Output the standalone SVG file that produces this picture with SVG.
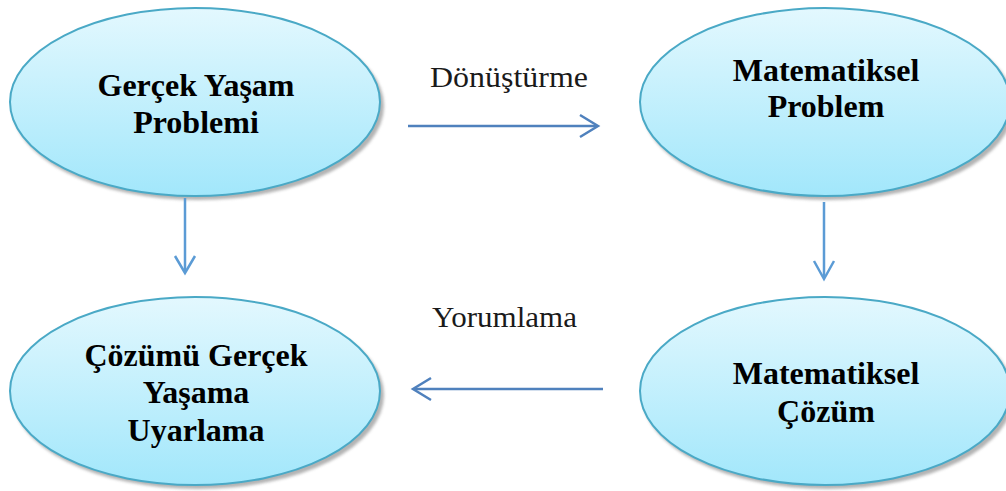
<svg xmlns="http://www.w3.org/2000/svg" width="1006" height="491" viewBox="0 0 1006 491">
  <style>
    .node { fill: url(#bubble); stroke: #4aa9c6; stroke-width: 2; }
    .shade { fill: #9a9a9a; opacity: 0.75; }
    .title { font-family: "Liberation Serif", "Times New Roman", serif; font-weight: bold; font-size: 32px; fill: #000; text-anchor: middle; }
    .label { font-family: "Liberation Serif", "Times New Roman", serif; font-size: 29px; fill: #1a1a1a; }
    .link { stroke: #4f81bd; stroke-width: 2.5; fill: none; }
    .link-v { stroke: #5b9bd5; stroke-width: 2.5; fill: none; }
  </style>
  <defs>
    <linearGradient id="bubble" x1="0" y1="0" x2="0" y2="1">
      <stop offset="0" stop-color="#e3f8fe"/>
      <stop offset="1" stop-color="#a2e7fb"/>
    </linearGradient>
    <filter id="soft" x="-10%" y="-10%" width="120%" height="120%">
      <feGaussianBlur stdDeviation="1.5"/>
    </filter>
  </defs>

  <rect width="1006" height="491" fill="#ffffff"/>

  <g id="real-problem">
    <ellipse class="shade" cx="198" cy="106" rx="186" ry="94" filter="url(#soft)"/>
    <ellipse class="node" cx="195" cy="102" rx="185" ry="94"/>
    <text class="title" x="196" y="96">Gerçek Yaşam</text>
    <text class="title" x="196" y="133">Problemi</text>
  </g>

  <g id="math-problem">
    <ellipse class="shade" cx="828" cy="106" rx="186" ry="94" filter="url(#soft)"/>
    <ellipse class="node" cx="825" cy="102" rx="185" ry="94"/>
    <text class="title" x="826" y="81">Matematiksel</text>
    <text class="title" x="826" y="117">Problem</text>
  </g>

  <g id="real-solution">
    <ellipse class="shade" cx="198" cy="395" rx="186" ry="94" filter="url(#soft)"/>
    <ellipse class="node" cx="195" cy="391" rx="185" ry="94"/>
    <text class="title" x="196" y="366">Çözümü Gerçek</text>
    <text class="title" x="196" y="403">Yaşama</text>
    <text class="title" x="196" y="441">Uyarlama</text>
  </g>

  <g id="math-solution">
    <ellipse class="shade" cx="828" cy="395" rx="186" ry="94" filter="url(#soft)"/>
    <ellipse class="node" cx="825" cy="391" rx="185" ry="94"/>
    <text class="title" x="826" y="384">Matematiksel</text>
    <text class="title" x="826" y="422">Çözüm</text>
  </g>

  <g id="connectors">
    <!-- real problem to mathematical problem -->
    <path class="link" d="M408 126 H597"/>
    <path class="link" d="M580 115 L598 126 L580 137"/>
    <text class="label" x="430" y="87" textLength="158" lengthAdjust="spacingAndGlyphs">Dönüştürme</text>

    <!-- mathematical solution back to real life -->
    <path class="link" d="M603 389 H414"/>
    <path class="link" d="M431 378 L413 389 L431 400"/>
    <text class="label" x="432" y="327" textLength="145" lengthAdjust="spacingAndGlyphs">Yorumlama</text>

    <!-- vertical links -->
    <path class="link-v" d="M185 198 V272"/>
    <path class="link-v" d="M175 256 L185 273 L195 256"/>
    <path class="link-v" d="M824 202 V278"/>
    <path class="link-v" d="M814 261 L824 279 L834 261"/>
  </g>
</svg>
